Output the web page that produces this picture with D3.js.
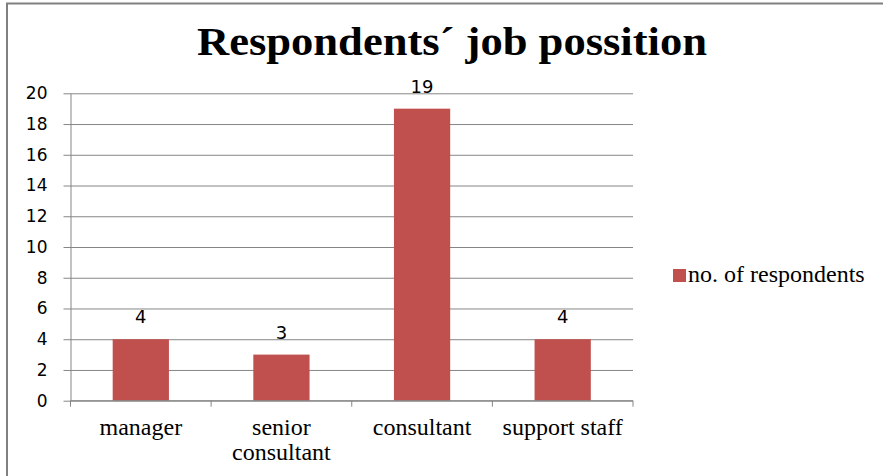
<!DOCTYPE html>
<html>
<head>
<meta charset="utf-8">
<script src="https://cdn.jsdelivr.net/npm/d3@7"></script>
<style>
  html, body { margin: 0; padding: 0; background: #fff; }
  #fig text.serif-face { font-family: "Liberation Serif" !important; }
  #fig text.sans-face { font-family: "DejaVu Sans" !important; }
</style>
</head>
<body>
<svg id="fig" width="883" height="476"></svg>
<script>
// Chart data
const categories = ["manager", "senior consultant", "consultant", "support staff"];
const respondents = [4, 3, 19, 4];
const yTicks = [0, 2, 4, 6, 8, 10, 12, 14, 16, 18, 20];
const seriesName = "no. of respondents";
const titleText = "Respondents\u00B4 job possition";

const svg = d3.select("#fig");
const W = 883, H = 476;
const plot = { left: 70.5, right: 633, top: 93.3, bottom: 400.7 };
const gridColor = "#868686";
const barColor = "#C0504D";
const serifFace = "Liberation Serif";
const sansFace = "DejaVu Sans";

// Outer frame of the chart area (extends past the right and bottom edges)
svg.append("path")
  .attr("d", `M7,${H + 5} V3.5 H${W + 5}`)
  .attr("fill", "none")
  .attr("stroke", "#808080")
  .attr("stroke-width", 2);

// Title
svg.append("text")
  .attr("class", "serif-face")
  .attr("x", 197)
  .attr("y", 55)
  .attr("textLength", 510)
  .attr("lengthAdjust", "spacingAndGlyphs")
  .style("font-family", serifFace, "important")
  .style("font-weight", "bold")
  .style("font-size", "40px")
  .attr("fill", "#000")
  .text(titleText);

const x = d3.scaleBand()
  .domain(categories)
  .range([plot.left, plot.right])
  .paddingInner(0.6)
  .paddingOuter(0.3);

const y = d3.scaleLinear()
  .domain([0, 20])
  .range([plot.bottom, plot.top]);

// Y axis with horizontal gridlines
const yAxis = svg.append("g")
  .attr("transform", `translate(${plot.left},0)`)
  .call(d3.axisLeft(y)
    .tickValues(yTicks)
    .tickSizeInner(-(plot.right - plot.left))
    .tickSizeOuter(0)
    .tickPadding(23));
yAxis.attr("font-family", sansFace);
yAxis.select(".domain").attr("stroke", gridColor);
yAxis.selectAll(".tick line")
  .attr("x1", -7)
  .attr("stroke", gridColor)
  .attr("stroke-width", 1);
yAxis.selectAll(".tick text")
  .attr("class", "sans-face")
  .style("font-family", sansFace, "important")
  .style("font-size", "17px")
  .attr("fill", "#000");

// Bars
svg.append("g").selectAll("rect")
  .data(categories)
  .join("rect")
  .attr("x", d => x(d))
  .attr("width", x.bandwidth())
  .attr("y", (d, i) => y(respondents[i]))
  .attr("height", (d, i) => y(0) - y(respondents[i]))
  .attr("fill", barColor);

// Value labels
svg.append("g").selectAll("text")
  .data(categories)
  .join("text")
  .attr("class", "sans-face")
  .attr("x", d => x(d) + x.bandwidth() / 2)
  .attr("y", (d, i) => y(respondents[i]) - 16)
  .attr("text-anchor", "middle")
  .style("font-family", sansFace, "important")
  .style("font-size", "18px")
  .attr("fill", "#000")
  .text((d, i) => respondents[i]);

// X axis: baseline with tick marks between categories
const step = x.step();
const start = x.range()[0];
const xAxis = svg.append("g")
  .attr("transform", `translate(0,${plot.bottom})`);
xAxis.append("line")
  .attr("x1", plot.left).attr("x2", plot.right)
  .attr("stroke", gridColor);
xAxis.selectAll("line.sep")
  .data(d3.range(categories.length + 1))
  .join("line")
  .attr("class", "sep")
  .attr("x1", i => start + i * step)
  .attr("x2", i => start + i * step)
  .attr("y1", 0).attr("y2", 6)
  .attr("stroke", gridColor);

// Category labels (wrapped to the band width)
const labelLines = {
  "manager": ["manager"],
  "senior consultant": ["senior", "consultant"],
  "consultant": ["consultant"],
  "support staff": ["support staff"]
};
const xl = svg.append("g").selectAll("text")
  .data(categories)
  .join("text")
  .attr("class", "serif-face")
  .attr("x", d => x(d) + x.bandwidth() / 2)
  .attr("y", plot.bottom + 34)
  .attr("text-anchor", "middle")
  .style("font-family", serifFace, "important")
  .style("font-size", "24px")
  .attr("fill", "#000");
xl.each(function (d) {
  const t = d3.select(this);
  labelLines[d].forEach((ln, k) => {
    t.append("tspan")
      .attr("x", x(d) + x.bandwidth() / 2)
      .attr("dy", k === 0 ? 0 : 25)
      .text(ln);
  });
});

// Legend
const legend = svg.append("g");
legend.append("rect")
  .attr("x", 673).attr("y", 269)
  .attr("width", 13).attr("height", 13)
  .attr("fill", barColor);
legend.append("text")
  .attr("class", "serif-face")
  .attr("x", 688).attr("y", 282)
  .style("font-family", serifFace, "important")
  .style("font-size", "24px")
  .attr("fill", "#000")
  .text(seriesName);
</script>
</body>
</html>
